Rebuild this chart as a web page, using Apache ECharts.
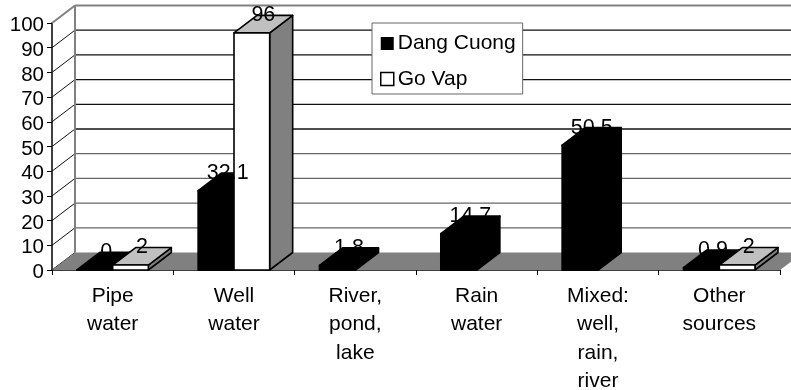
<!DOCTYPE html>
<html><head><meta charset="utf-8">
<style>html,body{margin:0;padding:0;background:#fff}#c{width:791px;height:390px}</style>
<script src="https://cdn.jsdelivr.net/npm/echarts@6/dist/echarts.min.js"></script>
</head><body><div id="c"></div>
<script>
const categories = ['Pipe\nwater','Well\nwater','River,\npond,\nlake','Rain\nwater','Mixed:\nwell,\nrain,\nriver','Other\nsources'];
const dangCuong = [0, 32.1, 1.8, 14.7, 50.5, 0.9];
const goVap = [2, 96, null, null, null, 2];
const yTicks = [0,10,20,30,40,50,60,70,80,90,100];
const DX = 23, DY = 17.5, BAR = 0.294;
const FONT = '"Liberation Sans", Arial, sans-serif';
const GRAY = '#808080', LIGHT = '#c0c0c0';

function box(x, w, y0, y1, front, top, side, lw) {
  const st = {stroke:'#000', lineWidth:lw, lineJoin:'round'};
  return [
    {type:'polygon', shape:{points:[[x+w,y1],[x+w+DX,y1-DY],[x+w+DX,y0-DY],[x+w,y0]]}, style:{fill:side,...st}},
    {type:'polygon', shape:{points:[[x,y1],[x+DX,y1-DY],[x+w+DX,y1-DY],[x+w,y1]]}, style:{fill:top,...st}},
    {type:'polygon', shape:{points:[[x,y0],[x+w,y0],[x+w,y1],[x,y1]]}, style:{fill:front,...st}}
  ];
}
function wallItem(params, api) {
  const v = api.value(0), cs = params.coordSys, y = api.coord([0, v])[1];
  const left = cs.x, right = cs.x + cs.width;
  const isTop = v === yTicks[yTicks.length-1];
  const col = isTop ? GRAY : (v > 0 && v < 50 ? '#666' : '#111');
  const kids = [];
  if (v > 0) kids.push({type:'line', shape:{x1:left+DX,y1:y-DY,x2:right+DX,y2:y-DY}, style:{stroke:col,lineWidth:isTop?2:1.3}});
  kids.push({type:'line', shape:{x1:left,y1:y,x2:left+DX,y2:y-DY}, style:{stroke:isTop?GRAY:'#111',lineWidth:isTop?2:1}});
  return {type:'group', children:kids};
}
function floorItem(params) {
  const cs = params.coordSys, b = cs.y + cs.height, l = cs.x, r = cs.x + cs.width;
  return {type:'group', children:[
    {type:'line', shape:{x1:l+DX,y1:cs.y-DY,x2:l+DX,y2:b-DY}, style:{stroke:GRAY,lineWidth:2}},
    {type:'polygon', shape:{points:[[l,b],[r,b],[r+DX,b-DY],[l+DX,b-DY]]}, style:{fill:GRAY}}
  ]};
}
function barItem(offset, front, top, side, lw) {
  return function(params, api) {
    if (api.value(1) == null || isNaN(api.value(1))) return null;
    const c = api.coord([api.value(0), api.value(1)]), y0 = api.coord([api.value(0), 0])[1];
    const w = api.size([1,0])[0] * BAR;
    const x = c[0] + offset * w;
    return {type:'group', children:box(x, w, y0, c[1], front, top, side, lw)};
  };
}
function labelItem(offset) {
  return function(params, api) {
    if (api.value(1) == null || isNaN(api.value(1))) return null;
    const c = api.coord([api.value(0), api.value(1)]);
    const w = api.size([1,0])[0] * BAR;
    return {type:'text', style:{text:String(api.value(1)), x:c[0]+offset*w+w/2+DX/2, y:c[1]-DY,
      align:'center', verticalAlign:'middle', font:'21.5px '+FONT, fill:'#000'}};
  };
}
const idx = a => a.map((v,i)=>[i,v]);
const chart = echarts.init(document.getElementById('c'), null, {renderer:'canvas'});
chart.setOption({
  animation:false,
  backgroundColor:'#fff',
  grid:{left:52, right:11, top:23, height:247, outerBoundsMode:'none', containLabel:false},
  xAxis:{type:'category', data:categories,
    axisLine:{lineStyle:{color:'#000',width:1.5}},
    axisTick:{show:true, alignWithLabel:false, length:5, lineStyle:{color:'#000'}},
    axisLabel:{color:'#000', fontFamily:FONT, fontSize:21, lineHeight:28.4, margin:12, interval:0, hideOverlap:false}},
  yAxis:{type:'value', min:0, max:100, interval:10,
    splitLine:{show:false},
    axisLine:{show:true, lineStyle:{color:'#000',width:1.5}},
    axisTick:{show:true, length:5, lineStyle:{color:'#000'}},
    axisLabel:{color:'#000', margin:8, formatter:'{t|{value}}',
      rich:{t:{fontFamily:FONT, fontSize:20.5, color:'#000', padding:[5,0,0,0]}}}},
  legend:{orient:'vertical', left:372, top:23, z:20,
    backgroundColor:'#fff', borderColor:'#666', borderWidth:1, padding:[7.5,7,2,8], itemGap:9.5,
    itemWidth:13, itemHeight:13, icon:'rect',
    textStyle:{color:'#000', fontFamily:FONT, fontSize:21, lineHeight:22, padding:[0,0,4,-1]},
    data:[{name:'Dang Cuong', itemStyle:{color:'#000'}},
          {name:'Go Vap', itemStyle:{color:'#fff', borderColor:'#000', borderWidth:1.5}}]},
  series:[
    {type:'custom', name:'walls', data:yTicks.map(v=>[v]), renderItem:wallItem, z:1, silent:true, encode:{y:0}, clip:false},
    {type:'custom', name:'floor', data:[[0]], renderItem:floorItem, z:1, silent:true, clip:false},
    {type:'custom', name:'Dang Cuong', data:idx(dangCuong), renderItem:barItem(-1,'#000','#000','#000',2), itemStyle:{color:'#000'}, z:3, encode:{x:0,y:1}, clip:false},
    {type:'custom', name:'Go Vap', data:idx(goVap), renderItem:barItem(0,'#fff',LIGHT,GRAY,1.6), itemStyle:{color:'#fff'}, z:4, encode:{x:0,y:1}, clip:false},
    {type:'custom', name:'labels1', data:idx(dangCuong), renderItem:labelItem(-1), z:6, silent:true, encode:{x:0,y:1}, clip:false},
    {type:'custom', name:'labels2', data:idx(goVap), renderItem:labelItem(0), z:6, silent:true, encode:{x:0,y:1}, clip:false}
  ]
});
</script></body></html>
